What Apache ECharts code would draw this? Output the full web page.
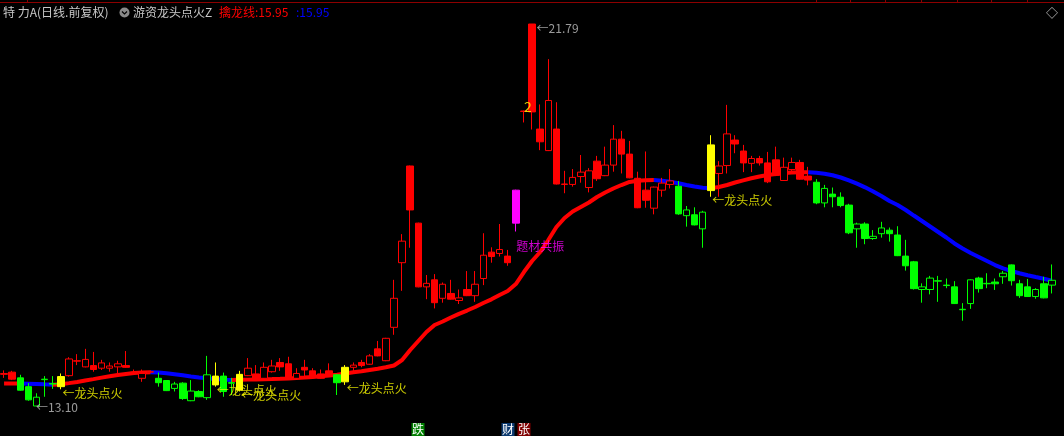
<!DOCTYPE html>
<html><head><meta charset="utf-8">
<script src="https://cdn.jsdelivr.net/npm/echarts@6/dist/echarts.min.js"></script>
<style>html,body{margin:0;padding:0;background:#000;}#c{width:1064px;height:436px;}</style>
</head><body><div id="c"></div>
<script>
// ---- data ----
const openP = [13.82,13.87,13.74,13.54,13.10,13.70,13.61,13.54,13.79,14.12,
13.99,14.02,13.96,13.96,13.99,14.02,13.86,13.73,13.87,13.73,
13.68,13.50,13.62,13.22,13.43,13.29,13.58,13.78,13.63,13.46,
13.79,13.83,13.73,13.88,14.09,14.06,13.73,13.98,13.90,13.83,
13.90,13.81,13.65,13.98,14.09,14.05,14.40,14.13,14.89,16.36,
18.56,17.26,15.81,15.97,15.55,15.66,15.50,15.75,15.61,16.00,
16.60,16.57,16.51,17.26,19.80,21.79,19.40,18.91,19.40,18.14,
18.14,18.32,18.07,18.67,18.34,18.58,19.17,18.83,18.28,18.01,
17.60,18.01,18.14,18.10,17.43,17.45,17.13,18.00,18.39,18.57,
19.15,18.90,18.62,18.73,18.63,18.70,18.23,18.48,18.64,18.33,
18.19,17.72,17.92,17.85,17.67,17.13,17.24,16.91,17.02,17.10,
16.99,16.51,16.38,15.75,15.75,15.94,15.85,15.81,15.29,15.43,
16.01,15.88,15.92,16.04,16.31,15.88,15.81,15.59,15.88,15.85];
const closeP = [13.84,13.71,13.46,13.24,13.30,13.71,13.60,13.77,14.17,14.13,
14.16,13.93,14.08,14.01,14.06,13.98,13.87,13.84,13.88,13.63,
13.45,13.60,13.27,13.44,13.31,13.81,13.78,13.43,13.62,13.82,
13.96,13.71,13.98,14.01,13.99,13.73,13.84,13.92,13.78,13.73,
13.77,13.63,13.98,14.03,14.02,14.24,14.24,14.64,15.55,16.85,
17.56,15.81,15.89,15.45,15.87,15.53,15.56,15.61,15.87,16.53,
16.50,16.66,16.36,18.01,19.81,19.79,19.11,20.05,18.15,18.15,
18.30,18.42,18.45,18.27,18.58,19.17,18.83,18.29,17.61,17.78,
18.08,18.17,18.22,17.47,17.56,17.22,17.51,19.04,18.56,19.29,
19.06,18.63,18.73,18.63,18.20,18.35,18.53,18.64,18.26,18.24,
17.72,18.05,17.86,17.66,17.04,17.24,16.91,16.96,17.15,17.02,
16.52,16.29,15.77,15.81,16.01,15.95,15.84,15.43,15.30,15.97,
15.77,15.89,15.88,16.12,15.95,15.61,15.59,15.75,15.56,15.96];
const lowP = [13.74,13.69,13.45,13.22,13.10,13.31,13.49,13.48,13.77,14.03,
13.98,13.88,13.92,13.88,13.84,13.97,13.81,13.65,13.84,13.54,
13.44,13.43,13.24,13.21,13.30,13.24,13.54,13.31,13.35,13.43,
13.78,13.70,13.72,13.86,13.90,13.71,13.71,13.73,13.77,13.72,
13.76,13.35,13.58,13.86,13.98,14.04,14.23,14.12,14.72,15.72,
16.70,15.80,15.53,15.32,15.45,15.52,15.42,15.60,15.47,15.85,
16.36,16.50,16.29,17.07,19.55,19.39,18.92,18.90,18.14,17.94,
18.09,18.18,17.96,18.22,18.33,18.43,18.39,18.28,17.60,17.61,
17.46,17.86,18.05,17.45,17.18,17.21,16.70,17.86,17.86,18.39,
18.85,18.42,18.42,18.57,18.17,18.33,18.22,18.39,18.25,18.12,
17.69,17.62,17.62,17.62,17.01,16.70,16.78,16.88,16.93,16.84,
16.51,16.18,15.75,15.45,15.64,15.47,15.78,15.42,15.04,15.31,
15.68,15.78,15.74,15.88,15.84,15.56,15.58,15.54,15.55,15.66];
const highP = [13.91,13.90,13.81,13.62,13.39,13.78,13.78,13.84,14.21,14.28,
14.40,14.33,14.15,14.09,14.13,14.35,13.93,13.93,13.91,13.86,
13.69,13.65,13.64,13.69,13.46,14.24,14.09,13.86,13.74,13.90,
14.19,14.03,14.09,14.15,14.19,14.22,13.96,14.15,13.96,13.93,
14.07,13.83,14.03,14.09,14.15,14.28,14.58,14.65,15.97,17.01,
18.57,17.27,16.08,16.10,15.91,15.97,15.75,16.17,16.17,17.03,
16.71,17.24,16.65,18.02,19.82,21.79,19.96,20.99,20.01,18.45,
18.49,18.81,18.51,18.79,19.00,19.49,19.36,19.13,18.43,18.89,
18.09,18.29,18.49,18.22,17.65,17.62,17.54,19.26,18.67,19.95,
19.26,19.04,18.79,18.79,18.88,19.00,18.75,18.75,18.70,18.54,
18.26,18.13,18.07,17.96,17.70,17.27,17.28,17.10,17.29,17.16,
17.19,16.88,16.40,15.89,16.06,16.06,16.00,15.94,15.44,15.98,
16.04,16.12,16.00,16.17,16.32,15.97,15.99,15.78,16.04,16.32];
// 擒龙线
const dragonLine = [13.610,13.612,13.614,13.608,13.600,13.592,13.585,13.596,13.620,13.646,
13.680,13.712,13.746,13.777,13.806,13.830,13.851,13.862,13.868,13.862,
13.845,13.822,13.798,13.772,13.750,13.731,13.715,13.700,13.692,13.696,
13.700,13.705,13.710,13.714,13.719,13.726,13.737,13.748,13.760,13.776,
13.794,13.812,13.839,13.867,13.889,13.919,13.949,13.980,14.021,14.146,
14.374,14.579,14.783,14.943,15.022,15.113,15.197,15.272,15.352,15.443,
15.527,15.625,15.716,15.875,16.148,16.398,16.603,16.876,17.172,17.377,
17.524,17.627,17.729,17.854,17.957,18.048,18.127,18.196,18.225,18.237,
18.241,18.225,18.202,18.166,18.127,18.093,18.066,18.052,18.082,18.127,
18.184,18.234,18.280,18.321,18.355,18.378,18.400,18.412,18.417,18.420,
18.407,18.384,18.348,18.298,18.234,18.157,18.075,17.979,17.877,17.763,
17.672,17.559,17.433,17.308,17.183,17.058,16.933,16.797,16.683,16.580,
16.489,16.398,16.307,16.232,16.171,16.119,16.073,16.034,15.996,15.950];
// signal state per day: U = strong, D = weak, F = 龙头点火, T = 题材共振
const tone = ('UU DDDDD F UUUUUUUUUUU DDDDDDD F DD F UUUUUUUUUUU D F ' +
  'UUUUUUUUUUUUUUUUUUUU T UUUUUUUUUUUUUUUUUUU DDDD F UUUUUUUUUUUU ' +
  'DDDDDDDDDDDDDDDDDDDDDDDDDDDDDD').replace(/ /g, '').split('');
const boardMarks = [{day: 64, text: '2'}];
const events = [{day: 51, text: '跌', kind: 'down'}, {day: 62, text: '财', kind: 'news'}, {day: 64, text: '张', kind: 'up'}];
const stockTitle = '特 力A(日线.前复权)';
const indicatorName = '游资龙头点火Z';
const lineName = '擒龙线';

// ---- chart ----
const N = openP.length;
const days = openP.map((_, i) => 'D' + (i + 1));
const TONE = {U: '#ff0000', D: '#00ff00', F: '#ffff00', T: '#ff00ff'};
const candleData = openP.map((o, i) => {
  const col = TONE[tone[i]];
  const solid = tone[i] === 'F' || tone[i] === 'T';
  const up = closeP[i] > o;
  // rising day: hollow body, falling day: solid body
  const fill = solid ? col : (up ? '#000000' : col);
  return {value: [o, closeP[i], lowP[i], highP[i]],
    itemStyle: {color: fill, color0: fill, borderColor: col, borderColor0: col, borderColorDoji: col, borderWidth: 1}};
});
const rising = i => dragonLine[i] >= dragonLine[i - 1];
const redLine = dragonLine.map((v, i) => ((i > 0 && rising(i)) || (i < N - 1 && rising(i + 1))) ? v : null);
const blueLine = dragonLine.map((v, i) => ((i > 0 && !rising(i)) || (i < N - 1 && !rising(i + 1))) ? v : null);
const yMin = Math.min(...lowP), yMax = Math.max(...highP);
const iMin = lowP.indexOf(yMin), iMax = highP.indexOf(yMax);
const fireIdx = [], themeIdx = [];
tone.forEach((t, i) => { if (t === 'F') fireIdx.push(i); if (t === 'T') themeIdx.push(i); });
const CJK = 'Noto Sans CJK SC';
const lbl = (extra) => Object.assign({show: true, position: 'right', distance: 0, fontSize: 12, fontFamily: CJK}, extra);
const ghost = {color: 'rgba(0,0,0,0)'};

const chart = echarts.init(document.getElementById('c'));
chart.setOption({
  animation: false,
  backgroundColor: '#000000',
  grid: {left: 0, right: 8, top: 24, bottom: 30},
  xAxis: {type: 'category', data: days, boundaryGap: true, show: false},
  yAxis: {type: 'value', min: yMin, max: yMax, show: false, scale: true},
  series: [
    {type: 'line', data: redLine, showSymbol: false, symbol: 'none', z: 2, lineStyle: {color: '#ff0000', width: 4}, silent: true},
    {type: 'line', data: blueLine, showSymbol: false, symbol: 'none', z: 2, lineStyle: {color: '#0000ff', width: 4}, silent: true},
    {type: 'candlestick', data: candleData, barWidth: 7, z: 3, silent: true},
    {type: 'scatter', symbolSize: 1, itemStyle: ghost, z: 5, silent: true,
      data: fireIdx.map(i => [i, lowP[i]]),
      label: lbl({formatter: '←龙头点火', color: '#ffff00', offset: [1, 4]})},
    {type: 'scatter', symbolSize: 1, itemStyle: ghost, z: 5, silent: true,
      data: themeIdx.map(i => [i, lowP[i]]),
      label: lbl({formatter: '题材共振', color: '#ff00ff', offset: [0, 15]})},
    {type: 'scatter', symbolSize: 1, itemStyle: ghost, z: 5, silent: true,
      data: [[iMax, yMax]],
      label: lbl({formatter: '←' + yMax.toFixed(2), color: '#c0c0c0', offset: [4, 4]})},
    {type: 'scatter', symbolSize: 1, itemStyle: ghost, z: 5, silent: true,
      data: [[iMin, yMin]],
      label: lbl({formatter: '←' + yMin.toFixed(2), color: '#c0c0c0', offset: [-1, 1]})},
    {type: 'scatter', symbolSize: 1, itemStyle: ghost, z: 5, silent: true,
      data: boardMarks.map(b => ({value: [b.day, closeP[b.day]], name: b.text})),
      label: {show: true, position: 'inside', formatter: p => p.name, color: '#ffff00', fontSize: 14, fontFamily: CJK, offset: [4, -4]}}
  ]
});

const last = dragonLine[N - 1].toFixed(2);
const EV = {down: '#008000', news: '#0c3a70', up: '#800000'};
const g = [
  {type: 'line', shape: {x1: 0, y1: 2.5, x2: 1064, y2: 2.5}, style: {stroke: '#8c0000', lineWidth: 1}},
  {type: 'text', x: 3, y: 12.5, style: {text: stockTitle, fill: '#c8c8c8', font: '12px "' + CJK + '"', textVerticalAlign: 'middle'}},
  {type: 'circle', shape: {cx: 124.5, cy: 12.5, r: 5}, style: {fill: '#8a8a8a'}},
  {type: 'polyline', shape: {points: [[122, 11.5], [124.5, 14], [127, 11.5]]}, style: {stroke: '#000', lineWidth: 1.2, fill: null}},
  {type: 'text', x: 133, y: 12.5, style: {text: indicatorName, fill: '#c8c8c8', font: '12px "' + CJK + '"', textVerticalAlign: 'middle'}},
  {type: 'text', x: 219, y: 12.5, style: {text: lineName + ':' + last, fill: '#ff0000', font: '12px "' + CJK + '"', textVerticalAlign: 'middle'}},
  {type: 'text', x: 296, y: 12.5, style: {text: ':' + last, fill: '#0000ff', font: '12px "' + CJK + '"', textVerticalAlign: 'middle'}},
  {type: 'text', x: 1046, y: 13, style: {text: '◇', fill: '#c0c0c0', font: '12px "' + CJK + '"', textVerticalAlign: 'middle'}}
];
[27, 816, 850, 885, 921, 957, 991, 1027].forEach(x => g.push({type: 'line', shape: {x1: x + 0.5, y1: 0, x2: x + 0.5, y2: 3}, style: {stroke: '#8c0000', lineWidth: 1}}));
events.forEach(e => {
  const x = chart.convertToPixel({xAxisIndex: 0}, e.day);
  g.push({type: 'rect', shape: {x: Math.round(x) - 6.5, y: 423, width: 13, height: 13}, style: {fill: EV[e.kind]}});
  g.push({type: 'text', x: Math.round(x), y: 429.5, style: {text: e.text, fill: '#ffffff', font: '12px "' + CJK + '"', textAlign: 'center', textVerticalAlign: 'middle'}});
});
chart.setOption({graphic: g});
</script></body></html>
